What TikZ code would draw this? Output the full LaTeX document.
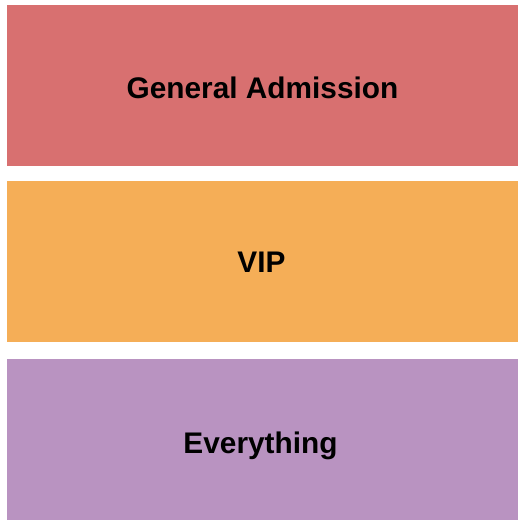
\documentclass[tikz,border=0pt]{standalone}
\usepackage{fontspec}
\setmainfont{Liberation Sans}
\definecolor{gared}{HTML}{D87070}
\definecolor{viporange}{HTML}{F5AE57}
\definecolor{evpurple}{HTML}{B993C1}
\begin{document}
\begin{tikzpicture}[x=1pt,y=-1pt,
  section/.style={draw=none,inner sep=0pt,anchor=base,font=\fontsize{29.8}{34}\selectfont\bfseries,text=black}]
\useasboundingbox (0,0) rectangle (525,525);
\fill[white] (0,0) rectangle (525,525);
\fill[gared] (7,5) rectangle (518,165.5);
\fill[viporange] (7,181) rectangle (518,341.5);
\fill[evpurple] (7,359) rectangle (518,520);
\node[section] (ga) at (262.5,98.5) {General Admission};
\node[section] (vip) at (261.5,272) {VIP};
\node[section] (ev) at (260.5,453) {Everything};
\end{tikzpicture}
\end{document}
